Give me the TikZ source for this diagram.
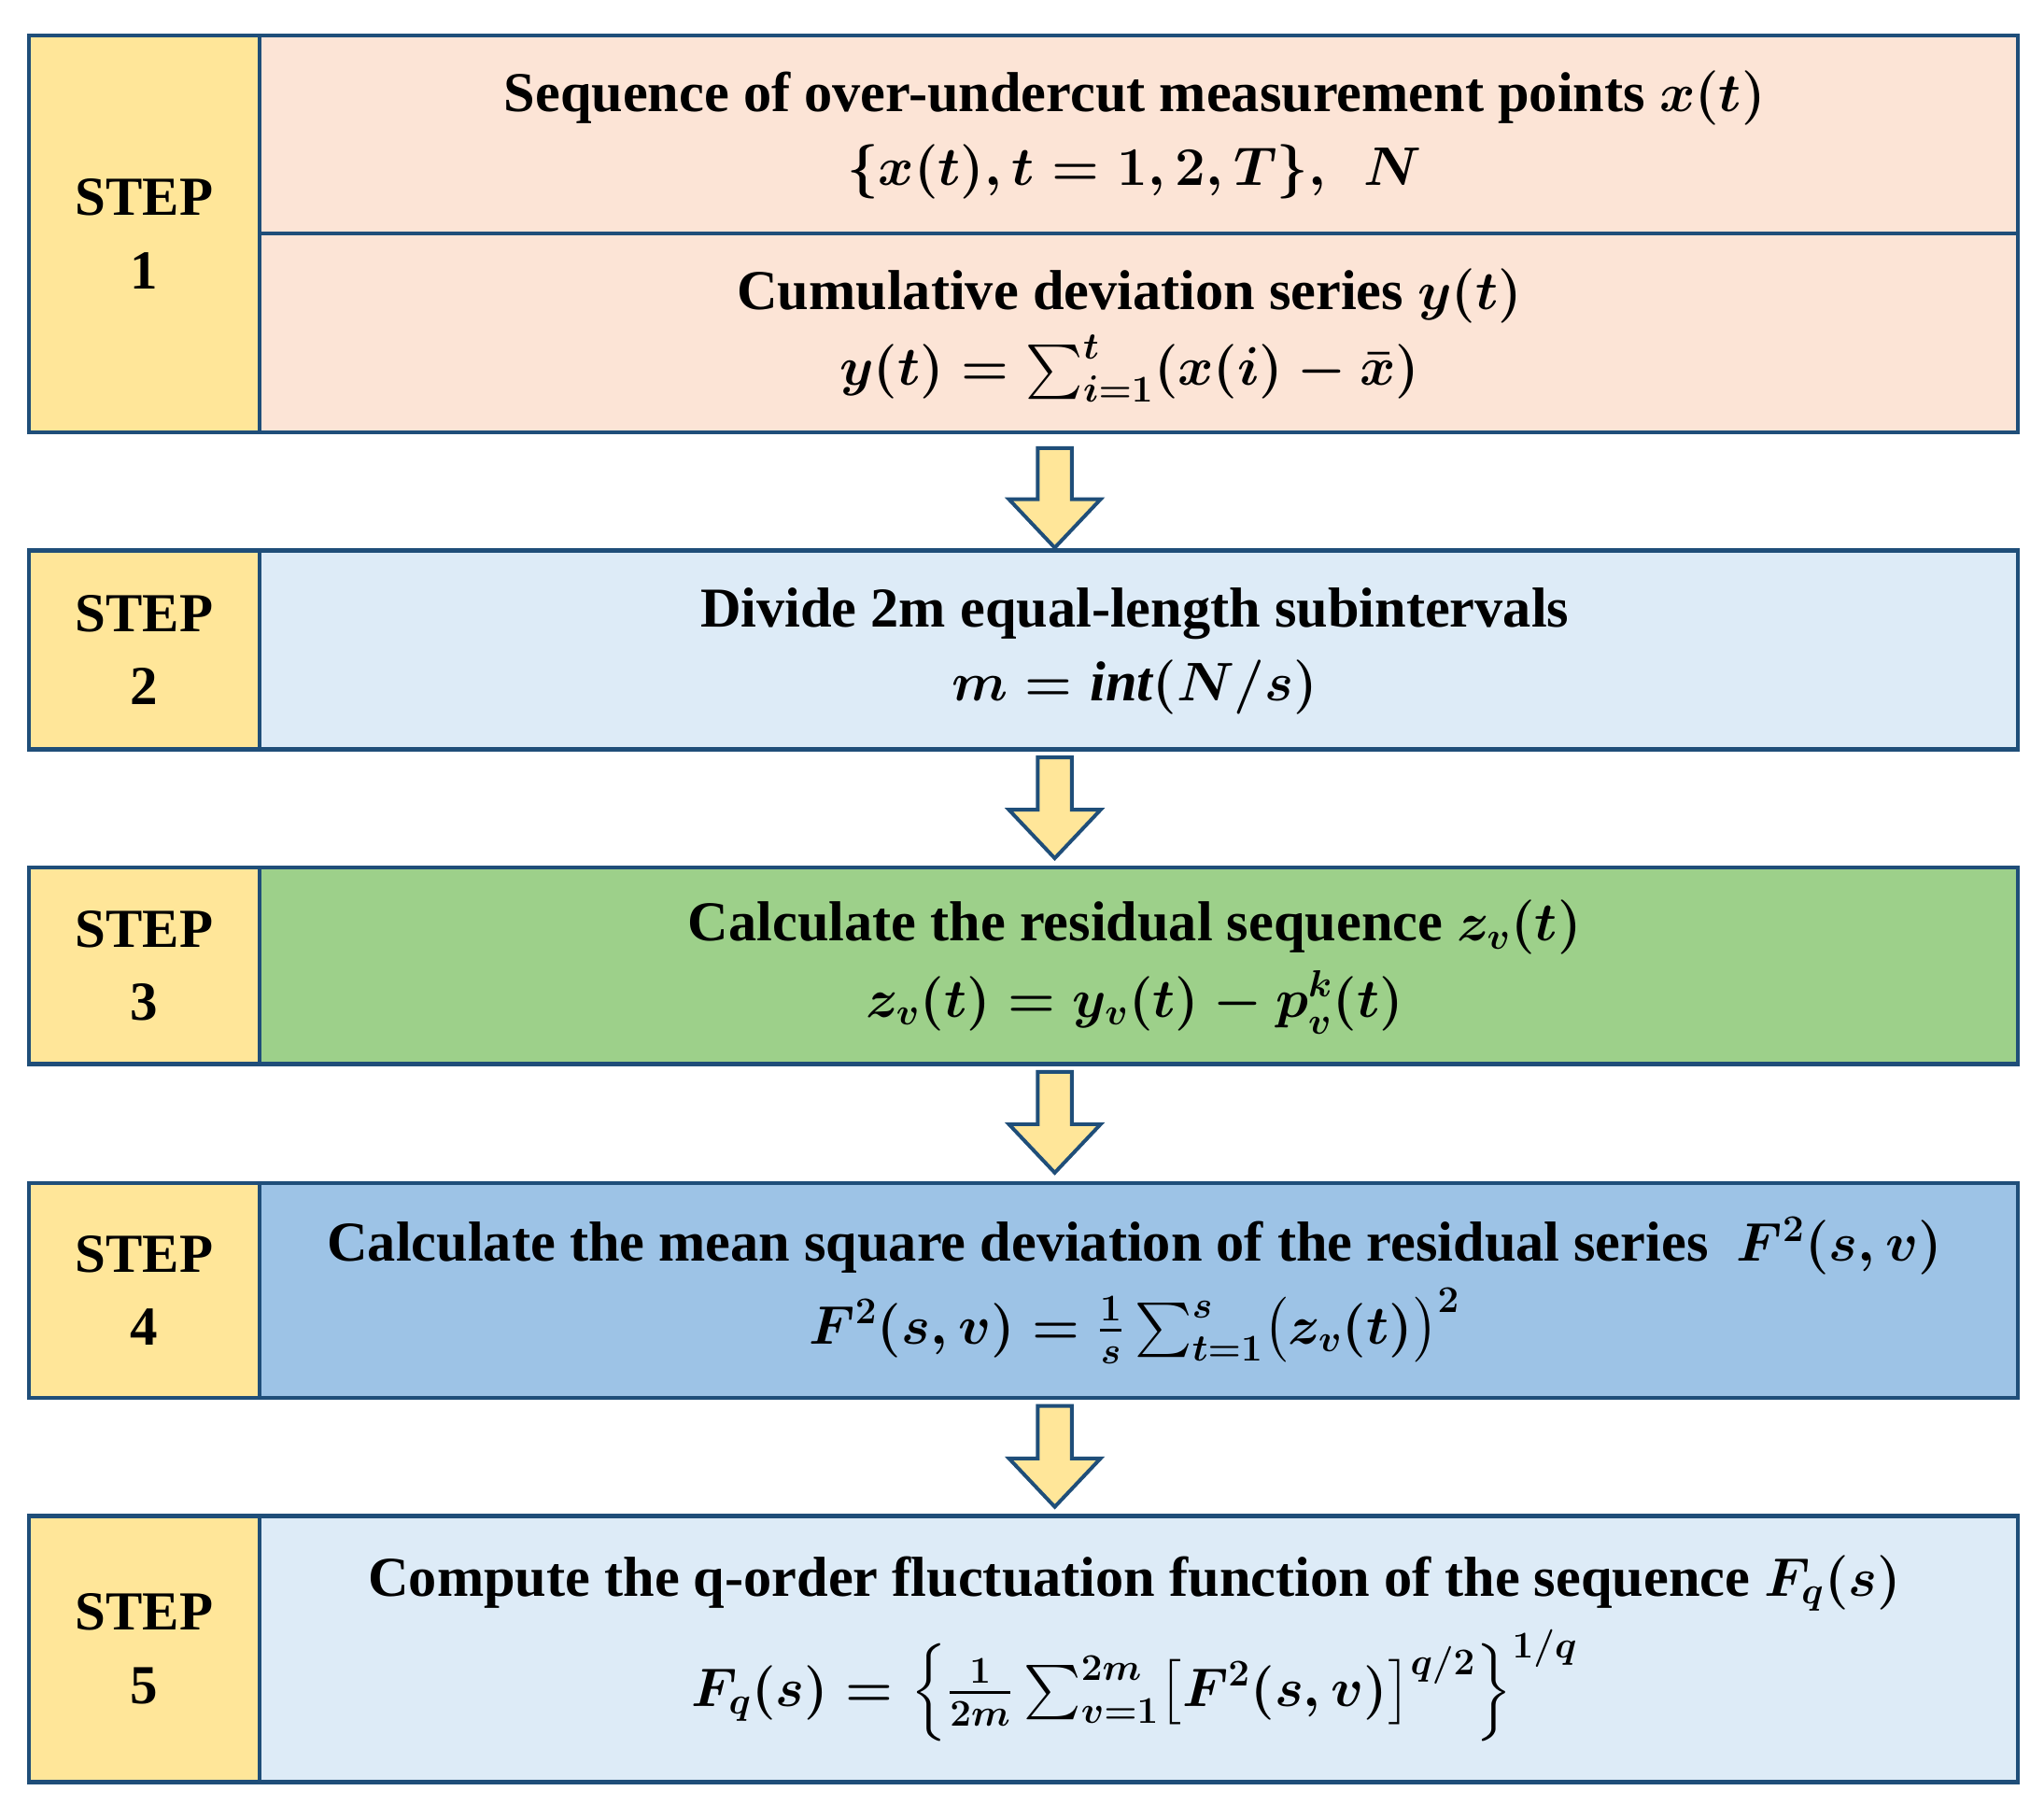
\documentclass[tikz,border=0pt]{standalone}
\usepackage{amsmath}
\usepackage{fontspec}
\setmainfont{Liberation Serif}
\begin{document}
\begin{tikzpicture}[x=0.5pt,y=-0.5pt,
  box/.style={draw=bdr,line width=1.6pt},
  txt/.style={font=\bfseries\boldmath\fontsize{21.5}{26}\selectfont,align=center,text=black},
  stp/.style={font=\bfseries\fontsize{21}{28}\selectfont,align=center},
  arr/.style={draw=bdr,fill=yel,line width=1.4pt,line join=miter}]
\definecolor{bdr}{HTML}{1F4E79}
\definecolor{yel}{HTML}{FFE699}
\definecolor{c1}{HTML}{FCE4D6}
\definecolor{c2}{HTML}{DDEBF7}
\definecolor{c3}{HTML}{9DD08A}
\definecolor{c4}{HTML}{9DC3E6}
\useasboundingbox (0,0) rectangle (1560,1388);
\fill[white] (0,0) rectangle (1560,1388);
\newcommand{\row}[5]{%
 \filldraw[box,fill=yel] (22,#1) rectangle (198,#2);
 \filldraw[box,fill=#3] (198,#1) rectangle (1540,#2);
 \node[stp] (#5) at (110,{(#1+#2)/2}) {STEP\\#4};}
\row{27}{330}{c1}{1}{s1}
\draw[box] (198,178) -- (1540,178);
\row{420}{572}{c2}{2}{s2}
\row{662}{812}{c3}{3}{s3}
\row{903}{1067}{c4}{4}{s4}
\row{1157}{1360}{c2}{5}{s5}
\node[txt] (t1a) at (866,103) {Sequence of over-undercut measurement points $x(t)$\\[2pt] $\{x(t),t=1,2,T\},\ \ N$};
\node[txt] (t1b) at (862,256) {Cumulative deviation series $y(t)$\\[3pt] $y(t)=\sum_{i=1}^{t}(x(i)-\bar{x})$};
\node[txt] (t2) at (866,497) {Divide 2m equal-length subintervals\\[2pt] $m=\mathit{int}(N/s)$};
\node[txt] (t3) at (866,738) {Calculate the residual sequence $z_v(t)$\\[3pt] $z_v(t)=y_v(t)-p_v^k(t)$};
\node[txt] (t4) at (866,985) {Calculate the mean square deviation of the residual series\ \ $F^2(s,v)$\\[4pt] $F^2(s,v)=\frac{1}{s}\sum_{t=1}^{s}\bigl(z_v(t)\bigr)^2$};
\node[txt] (t5) at (866,1258) {Compute the q-order fluctuation function of the sequence $F_q(s)$\\[6pt] $F_q(s)=\left\{\frac{1}{2m}\sum_{v=1}^{2m}\bigl[F^2(s,v)\bigr]^{q/2}\right\}^{1/q}$};
\newcommand{\barr}[2]{%
 \draw[arr] (792,#1) -- (818,#1) -- (818,{#2-37}) -- (840,{#2-37}) -- (805,#2) -- (770,{#2-37}) -- (792,{#2-37}) -- cycle;}
\barr{342}{418}
\barr{578}{655}
\barr{818}{895}
\barr{1073}{1150}
\end{tikzpicture}
\end{document}
